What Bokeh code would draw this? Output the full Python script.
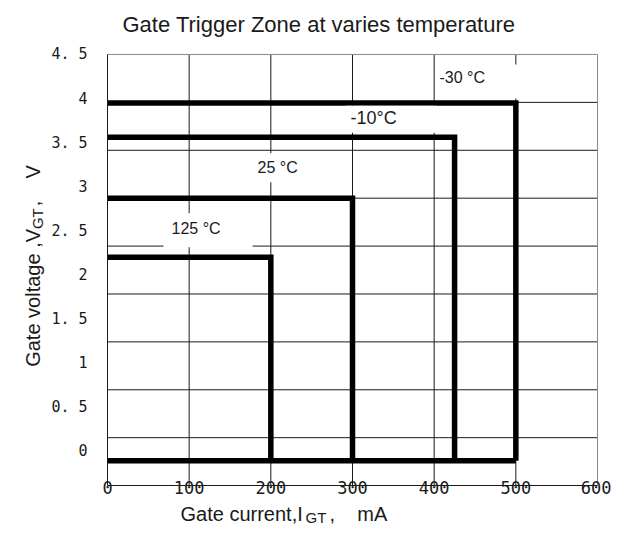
import numpy as np
from bokeh.plotting import figure
from bokeh.models import Range1d, FixedTicker, Label
from bokeh.embed import file_html
from bokeh.resources import INLINE

# ---------------- data ----------------
temperatures = ["-30 °C", "-10°C", "25 °C", "125 °C"]
gate_current_ma = [500, 425, 300, 200]      # I_GT limit of each zone
gate_voltage_v = [3.95, 3.56, 2.87, 2.20]   # V_GT limit of each zone
zone_floor_v = -0.11                        # common bottom edge of the zones
x_ticks = [0, 100, 200, 300, 400, 500, 600]
y_ticks = [0, 0.5, 1, 1.5, 2, 2.5, 3, 3.5, 4, 4.5]
y_tick_labels = ["0", "0. 5", "1", "1. 5", "2", "2. 5", "3", "3. 5", "4", "4. 5"]

# ---------------- layout ----------------
W, H = 611, 526
FRAME_TOP = 44
BOX_LEFT, BOX_RIGHT, BOX_TOP, BOX_BOTTOM = 107, 597, 53, 485   # pixel box of the chart
X_MIN, X_MAX = 0, 600
Y_MIN, Y_MAX = -0.391, 4.5
sx = (BOX_RIGHT - BOX_LEFT) / (X_MAX - X_MIN)
sy = (BOX_BOTTOM - BOX_TOP) / (Y_MAX - Y_MIN)
x_range = Range1d(X_MIN - BOX_LEFT / sx, X_MAX + (W - BOX_RIGHT) / sx)
y_range = Range1d(Y_MIN - (H - BOX_BOTTOM) / sy, Y_MAX + (BOX_TOP - FRAME_TOP) / sy)

def dx(px):
    return X_MIN + (px - BOX_LEFT) / sx

def dy(py):
    return Y_MIN + (BOX_BOTTOM - py) / sy

INK = "#1a1a1a"
EDGE = "#8a8a8a"
SANS = "Liberation Sans"
MONO = "DejaVu Sans Mono"
NB = "\u00a0"

p = figure(width=W, height=H, x_range=x_range, y_range=y_range,
           min_border=0, min_border_top=FRAME_TOP,
           output_backend="svg", toolbar_location=None,
           title="Gate Trigger Zone at varies temperature")
p.background_fill_color = "white"
p.border_fill_color = "white"
p.outline_line_color = None
p.xgrid.visible = False
p.ygrid.visible = False

p.title.text_font = SANS
p.title.text_font_size = "22px"
p.title.text_font_style = "normal"
p.title.text_color = INK
p.title.align = "left"
p.title.offset = 122
p.title.standoff = 18

# axes fixed at the box edges
p.xaxis.fixed_location = Y_MIN
p.yaxis.fixed_location = X_MIN
p.xaxis.bounds = (X_MIN, X_MAX)
p.yaxis.bounds = (Y_MIN, Y_MAX)
p.xaxis.ticker = FixedTicker(ticks=x_ticks)
p.yaxis.ticker = FixedTicker(ticks=y_ticks)
p.yaxis.major_label_overrides = {v: lab for v, lab in zip(y_ticks, y_tick_labels)}
for ax in (p.xaxis, p.yaxis):
    ax.major_tick_in = 0
    ax.major_tick_out = 0
    ax.minor_tick_in = 0
    ax.minor_tick_out = 0
    ax.axis_line_color = INK
    ax.axis_line_width = 1
    ax.major_label_text_font = MONO
    ax.major_label_text_color = INK
p.xaxis.major_label_text_font_size = "17px"
p.xaxis.major_label_standoff = -5
p.yaxis.major_label_text_font_size = "15px"
p.yaxis.major_label_standoff = 20

# grid inside the box
vx = x_ticks[1:-1]
p.segment(x0=vx, y0=[Y_MIN] * len(vx), x1=vx, y1=[Y_MAX] * len(vx),
          line_color=INK, line_width=1)
hy = list(np.linspace(Y_MIN, Y_MAX, 10)[1:-1])
p.segment(x0=[X_MIN] * len(hy), y0=hy, x1=[X_MAX] * len(hy), y1=hy,
          line_color=INK, line_width=1)
p.segment(x0=[X_MIN, X_MAX], y0=[Y_MAX, Y_MIN], x1=[X_MAX, X_MAX], y1=[Y_MAX, Y_MAX],
          line_color=EDGE, line_width=1)

# zones
xs = [[0, i, i] for i in gate_current_ma] + [[0, max(gate_current_ma)]]
ys = [[v, v, zone_floor_v] for v in gate_voltage_v] + [[zone_floor_v, zone_floor_v]]
p.multi_line(xs=xs, ys=ys, line_color="black", line_width=5.5,
             line_join="miter", line_cap="butt")

# temperature labels in white boxes (box top-left corner in pixels)
label_box = [(436, 63), (345, 104.5), (251, 152), (163, 212)]
label_size = ["16px", "18px", "16px", "16px"]
label_pad = [dict(left=3, right=34, top=5, bottom=12),
             dict(left=5, right=40, top=2, bottom=5),
             dict(left=6, right=6, top=6, bottom=6),
             dict(left=8, right=32, top=7, bottom=10)]
for t, (bx, by), fs, pad in zip(temperatures, label_box, label_size, label_pad):
    p.add_layout(Label(x=dx(bx), y=dy(by), text=t, text_align="left", text_baseline="top",
                       text_font=SANS, text_font_size=fs, text_color=INK,
                       background_fill_color="white", background_fill_alpha=1,
                       padding=pad))

# axis titles with subscripts
def lab(px, py, text, size="20px", angle=0.0):
    p.add_layout(Label(x=dx(px), y=dy(py), text=text, text_font=SANS, text_font_size=size,
                       text_color=INK, text_align="left", text_baseline="alphabetic",
                       angle=angle))

lab(180, 513, "Gate current,I")
lab(305, 517, "GT", size="15px")
lab(329, 513, "," + NB * 4 + "mA")

lab(32, 366, "Gate voltage ,V", angle=np.pi / 2)
lab(37, 228, "GT", size="15px", angle=np.pi / 2)
lab(32, 205, "," + NB * 4 + "V", angle=np.pi / 2)

open("out.html", "w").write(file_html(p, INLINE))
